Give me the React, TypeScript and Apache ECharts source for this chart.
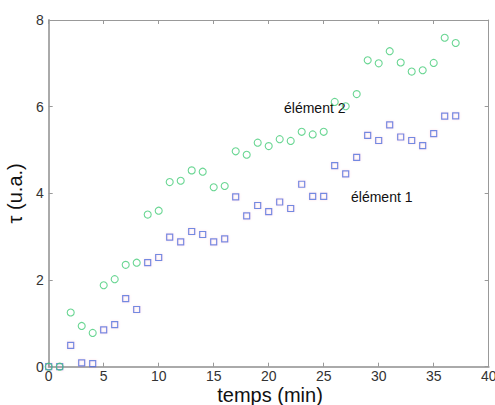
import React, { useEffect, useRef } from "react";
import * as echarts from "echarts";

const times = [0,1,2,3,4,5,6,7,8,9,10,11,12,13,14,15,16,17,18,19,20,21,22,23,24,25,26,27,28,29,30,31,32,33,34,35,36,37];
const element1 = [0,0,0.49,0.09,0.07,0.85,0.97,1.57,1.32,2.4,2.52,2.99,2.88,3.12,3.05,2.88,2.95,3.92,3.48,3.72,3.58,3.8,3.65,4.21,3.93,3.93,4.64,4.45,4.83,5.34,5.22,5.58,5.3,5.22,5.1,5.38,5.78,5.79];
const element2 = [0,0,1.25,0.94,0.78,1.88,2.02,2.35,2.4,3.51,3.6,4.26,4.29,4.53,4.5,4.14,4.17,4.97,4.89,5.17,5.09,5.25,5.21,5.42,5.36,5.42,6.11,6.01,6.29,7.07,7.0,7.28,7.02,6.81,6.84,7.01,7.59,7.47];
const seriesNames = ["élément 1", "élément 2"];
const xTitle = "temps (min)";
const yTitle = "τ (u.a.)";

export default function App() {
  const ref = useRef<HTMLDivElement>(null);
  useEffect(() => {
    if (!ref.current) return;
    const chart = echarts.init(ref.current, null, { renderer: "svg" });
    const font = "Arial, 'Liberation Sans', sans-serif";
    const tickStyle = { color: "#333", fontSize: 14, fontFamily: font };
    chart.setOption({
      animation: false,
      backgroundColor: "#fff",
      grid: { left: 48.7, right: 6.3, top: 20, bottom: 38.3, containLabel: false, outerBoundsMode: "none" },
      xAxis: [
        {
          type: "value", min: 0, max: 40, interval: 5, position: "bottom",
          axisLine: { show: true, onZero: false, lineStyle: { color: "#aaa", width: 2 } },
          axisTick: { show: true, inside: true, length: 4, lineStyle: { color: "#999" } },
          axisLabel: { ...tickStyle, margin: 2, lineHeight: 14 },
          splitLine: { show: false },
        },
        {
          type: "value", min: 0, max: 40, interval: 5, position: "top",
          axisLine: { show: true, onZero: false, lineStyle: { color: "#999", width: 1 } },
          axisTick: { show: true, inside: true, length: 4, lineStyle: { color: "#999" } },
          axisLabel: { show: false },
          splitLine: { show: false },
        },
      ],
      yAxis: [
        {
          type: "value", min: 0, max: 8, interval: 2, position: "left",
          name: yTitle, nameLocation: "middle", nameGap: 20, nameRotate: 90,
          nameTextStyle: { fontSize: 20, color: "#111", fontFamily: font },
          axisLine: { show: true, onZero: false, lineStyle: { color: "#aaa", width: 2 } },
          axisTick: { show: true, inside: true, length: 4, lineStyle: { color: "#999" } },
          axisLabel: { ...tickStyle, margin: 5 },
          splitLine: { show: false },
        },
        {
          type: "value", min: 0, max: 8, interval: 2, position: "right",
          axisLine: { show: true, onZero: false, lineStyle: { color: "#999", width: 1 } },
          axisTick: { show: true, inside: true, length: 4, lineStyle: { color: "#999" } },
          axisLabel: { show: false },
          splitLine: { show: false },
        },
      ],
      series: [
        {
          name: seriesNames[0],
          type: "scatter",
          symbol: "rect",
          symbolSize: 6,
          data: times.map((t, i) => [t, element1[i]]),
          itemStyle: { color: "rgba(0,0,0,0)", borderColor: "#4a6fdc", borderWidth: 1.2, shadowColor: "rgba(240,120,160,0.35)", shadowBlur: 2 },
          label: { show: false },
        },
        {
          name: seriesNames[1],
          type: "scatter",
          symbol: "circle",
          symbolSize: 7,
          data: times.map((t, i) => [t, element2[i]]),
          itemStyle: { color: "rgba(0,0,0,0)", borderColor: "#45cc78", borderWidth: 1.1 },
          label: { show: false },
        },
      ],
      graphic: [
        { type: "text", left: 284, top: 101, style: { text: seriesNames[1], fontSize: 14, fill: "#111", fontFamily: font } },
        { type: "text", left: 351, top: 190, style: { text: seriesNames[0], fontSize: 14, fill: "#111", fontFamily: font } },
        { type: "text", x: 270, y: 405, style: { text: xTitle, fontSize: 20, lineHeight: 20, fill: "#111", fontFamily: font, align: "center", verticalAlign: "bottom" } },
      ],
    });
    return () => chart.dispose();
  }, []);
  return <div ref={ref} style={{ width: 495, height: 405, position: "absolute", left: 0, top: 0 }} />;
}
